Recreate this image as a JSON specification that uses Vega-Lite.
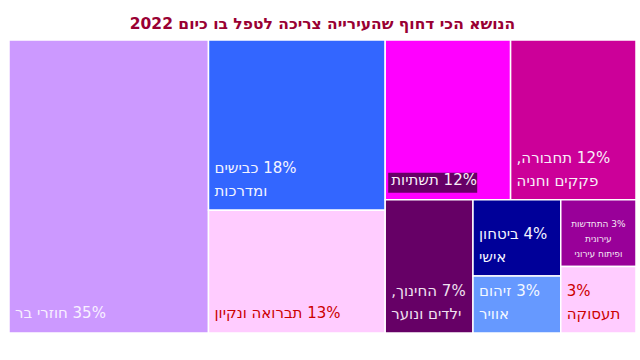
{
  "$schema": "https://vega.github.io/schema/vega-lite/v6.json",
  "width": 627,
  "height": 293,
  "autosize": {"type": "none"},
  "padding": {"left": 9, "top": 40, "right": 4, "bottom": 27},
  "background": "white",
  "config": {"view": {"stroke": null}},
  "title": {
    "text": "הנושא הכי דחוף שהעירייה צריכה לטפל בו כיום 2022",
    "color": "#990033",
    "fontSize": 15.5,
    "fontWeight": "bold",
    "font": "DejaVu Sans",
    "anchor": "middle",
    "offset": 7
  },
  "data": {
    "values": [
      {"topic": "חוזרי בר", "value": 35, "x0": 0, "x1": 0.31818, "y0": 0, "y1": 1, "lines": 1, "label": "\u202B35% חוזרי בר"},
      {"topic": "כבישים ומדרכות", "value": 18, "x0": 0.31818, "x1": 0.6, "y0": 0, "y1": 0.58065, "lines": 2, "label": "\u202B18% כבישים\n\u202Bומדרכות"},
      {"topic": "תברואה ונקיון", "value": 13, "x0": 0.31818, "x1": 0.6, "y0": 0.58065, "y1": 1, "lines": 1, "label": "\u202B13% תברואה ונקיון"},
      {"topic": "תשתיות", "value": 12, "x0": 0.6, "x1": 0.8, "y0": 0, "y1": 0.54545, "lines": 1, "label": "\u202B12% תשתיות"},
      {"topic": "תחבורה, פקקים וחניה", "value": 12, "x0": 0.8, "x1": 1, "y0": 0, "y1": 0.54545, "lines": 2, "label": "\u202B12% תחבורה,\n\u202Bפקקים וחניה"},
      {"topic": "החינוך, ילדים ונוער", "value": 7, "x0": 0.6, "x1": 0.74, "y0": 0.54545, "y1": 1, "lines": 2, "label": "\u202B7% החינוך,\n\u202Bילדים ונוער"},
      {"topic": "ביטחון אישי", "value": 4, "x0": 0.74, "x1": 0.88, "y0": 0.54545, "y1": 0.80519, "lines": 2, "label": "\u202B4% ביטחון\n\u202Bאישי"},
      {"topic": "זיהום אוויר", "value": 3, "x0": 0.74, "x1": 0.88, "y0": 0.80519, "y1": 1, "lines": 2, "label": "\u202B3% זיהום\n\u202Bאוויר"},
      {"topic": "התחדשות עירונית ופיתוח עירוני", "value": 3, "x0": 0.88, "x1": 1, "y0": 0.54545, "y1": 0.77273, "lines": 3, "label": "\u202B3% התחדשות\n\u202Bעירונית\n\u202Bופיתוח עירוני"},
      {"topic": "תעסוקה", "value": 3, "x0": 0.88, "x1": 1, "y0": 0.77273, "y1": 1, "lines": 2, "label": "\u202B3%\n\u202Bתעסוקה"}
    ]
  },
  "resolve": {"scale": {"color": "independent"}},
  "layer": [
    {
      "mark": {"type": "rect", "stroke": "white", "strokeWidth": 1.5},
      "encoding": {
        "x": {"field": "x0", "type": "quantitative", "scale": {"domain": [0, 1], "nice": false, "zero": false}, "axis": null},
        "x2": {"field": "x1"},
        "y": {"field": "y0", "type": "quantitative", "scale": {"domain": [0, 1], "nice": false, "zero": false, "reverse": true}, "axis": null},
        "y2": {"field": "y1"},
        "color": {
          "field": "topic", "type": "nominal", "legend": null,
          "scale": {
            "domain": ["חוזרי בר", "כבישים ומדרכות", "תברואה ונקיון", "תשתיות", "תחבורה, פקקים וחניה", "החינוך, ילדים ונוער", "ביטחון אישי", "זיהום אוויר", "התחדשות עירונית ופיתוח עירוני", "תעסוקה"],
            "range": ["#cc99ff", "#3366ff", "#ffccff", "#ff00ff", "#cc0099", "#660066", "#000099", "#6699ff", "#990099", "#ffccff"]
          }
        }
      }
    },
    {
      "transform": [{"filter": "datum.topic === 'תשתיות'"}],
      "mark": {"type": "rect", "color": "#660066", "xOffset": 3, "x2Offset": 92, "yOffset": -27, "y2Offset": -7},
      "encoding": {
        "x": {"field": "x0", "type": "quantitative"},
        "x2": {"field": "x0"},
        "y": {"field": "y1", "type": "quantitative"},
        "y2": {"field": "y1"}
      }
    },
    {
      "transform": [{"filter": "datum.lines === 1"}],
      "mark": {"type": "text", "align": "left", "baseline": "alphabetic", "dx": 6, "dy": -15, "fontSize": 15, "lineHeight": 23, "font": "DejaVu Sans", "lineBreak": "\n"},
      "encoding": {
        "x": {"field": "x0", "type": "quantitative"},
        "y": {"field": "y1", "type": "quantitative"},
        "text": {"field": "label"},
        "color": {
          "field": "topic", "type": "nominal", "legend": null,
          "scale": {
            "domain": ["חוזרי בר", "תברואה ונקיון", "תשתיות"],
            "range": ["#f8f0ff", "#cc0000", "#f8eef8"]
          }
        }
      }
    },
    {
      "transform": [{"filter": "datum.lines === 2"}],
      "mark": {"type": "text", "align": "left", "baseline": "alphabetic", "dx": 6, "dy": -37, "fontSize": 15, "lineHeight": 23, "font": "DejaVu Sans", "lineBreak": "\n"},
      "encoding": {
        "x": {"field": "x0", "type": "quantitative"},
        "y": {"field": "y1", "type": "quantitative"},
        "text": {"field": "label"},
        "color": {
          "field": "topic", "type": "nominal", "legend": null,
          "scale": {
            "domain": ["כבישים ומדרכות", "תחבורה, פקקים וחניה", "החינוך, ילדים ונוער", "ביטחון אישי", "זיהום אוויר", "תעסוקה"],
            "range": ["#f4f4ff", "#f8eef8", "#f0e0f0", "#f4f4ff", "#f4f8ff", "#cc0000"]
          }
        }
      }
    },
    {
      "transform": [
        {"filter": "datum.lines === 3"},
        {"calculate": "(datum.x0 + datum.x1) / 2", "as": "xm"}
      ],
      "mark": {"type": "text", "align": "center", "baseline": "alphabetic", "dy": -39, "fontSize": 9, "lineHeight": 15, "font": "DejaVu Sans", "lineBreak": "\n", "color": "#f4e8f4"},
      "encoding": {
        "x": {"field": "xm", "type": "quantitative"},
        "y": {"field": "y1", "type": "quantitative"},
        "text": {"field": "label"}
      }
    }
  ]
}
